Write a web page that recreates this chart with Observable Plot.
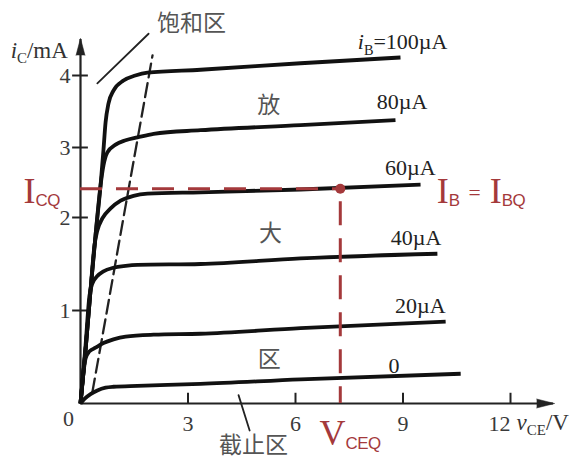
<!DOCTYPE html>
<html>
<head>
<meta charset="utf-8">
<script src="https://cdn.jsdelivr.net/npm/d3@7"></script>
<script src="https://cdn.jsdelivr.net/npm/@observablehq/plot@0.6"></script>
<style>
  html, body { margin: 0; padding: 0; background: #fff; }
</style>
</head>
<body>
<script>
// ---- data (v_CE in V, i_C in mA) ----
const ibValues = [100, 80, 60, 40, 20, 0];
const curveLabels = ["<i>i</i><sub>B</sub>=100µA", "80µA", "60µA", "40µA", "20µA", "0"];
const labelX = [10.24, 9.68, 9.91, 10.07, 10.19, 8.90];
const labelY = [4.46, 3.63, 2.71, 1.78, 1.05, 0.40];

const vce100 = [0, 0.14, 0.28, 0.42, 0.56, 0.64, 0.70, 0.78, 0.92, 1.20, 1.53, 1.87, 3.35, 6.14, 8.93];
const ic100  = [0, 0.57, 1.22, 1.81, 2.46, 2.96, 3.35, 3.61, 3.79, 3.93, 4.00, 4.04, 4.08, 4.17, 4.25];
const vce80 = [0, 0.14, 0.28, 0.42, 0.56, 0.64, 0.75, 0.98, 1.26, 1.59, 2.04, 3.35, 6.14, 8.79];
const ic80  = [0, 0.57, 1.22, 1.81, 2.46, 2.74, 2.93, 3.04, 3.10, 3.14, 3.19, 3.24, 3.31, 3.38];
const vce60 = [0, 0.14, 0.28, 0.39, 0.47, 0.61, 0.84, 1.12, 1.48, 1.87, 3.35, 6.14, 9.49];
const ic60  = [0, 0.57, 1.22, 1.70, 1.86, 1.99, 2.13, 2.24, 2.31, 2.34, 2.36, 2.40, 2.47];
const vce40 = [0, 0.14, 0.25, 0.33, 0.47, 0.64, 0.92, 1.26, 1.59, 3.35, 6.14, 9.96];
const ic40  = [0, 0.62, 1.16, 1.29, 1.37, 1.42, 1.46, 1.48, 1.49, 1.50, 1.56, 1.61];
const vce20 = [0, 0.06, 0.14, 0.25, 0.42, 0.64, 0.92, 1.26, 2.04, 3.35, 6.14, 10.19];
const ic20  = [0, 0.25, 0.48, 0.56, 0.60, 0.65, 0.69, 0.72, 0.74, 0.75, 0.81, 0.88];
const vce0 = [0, 0.11, 0.28, 0.47, 0.70, 0.92, 1.59, 3.35, 6.14, 10.61];
const ic0  = [0, 0.05, 0.10, 0.14, 0.17, 0.18, 0.19, 0.21, 0.26, 0.32];

// saturation boundary (dashed)
const satV = [0.33, 0.74, 1.20, 1.55, 1.91, 2.01];
const satI = [0.12, 1.00, 2.00, 3.00, 4.00, 4.28];

// Q point
const VCEQ = 7.25;
const ICQ = 2.41;

// ticks
const xTicks = [3, 6, 9, 12];
const yTicks = [1, 2, 3, 4];

// region labels
const regionText = ["放", "大", "区"];
const regionX = [5.25, 5.30, 5.27];
const regionY = [3.58, 1.83, 0.47];
const satLabel = {text: "饱和区", x: 3.10, y: 4.72, lx: [0.47, 1.90], ly: [3.89, 4.58]};
const cutLabel = {text: "截止区", x: 4.83, y: -0.45, lx: [4.41, 4.72], ly: [0.09, -0.29]};

// ---- build table ----
const series = [[vce100, ic100], [vce80, ic80], [vce60, ic60], [vce40, ic40], [vce20, ic20], [vce0, ic0]];
const rows = series.flatMap(([vs, is], k) => vs.map((v, j) => ({ib: ibValues[k], v, i: is[j]})));
const labels = curveLabels.map((t, k) => ({t, x: labelX[k], y: labelY[k]}));
const sat = satV.map((v, j) => ({v, i: satI[j]}));
const regions = regionText.map((t, k) => ({t, x: regionX[k], y: regionY[k]}));

const RED = "#a4393b";
const INK = "#111";
const AX = "#222";
const SERIF = "Liberation Serif, Times New Roman, serif";
const CJK = "Noto Sans CJK SC, sans-serif";

const chart = Plot.plot({
  width: 577,
  height: 459,
  margin: 0,
  style: {background: "white", overflow: "visible"},
  x: {domain: [0, 12], range: [80, 510], axis: null},
  y: {type: "linear", domain: [0, 1, 2, 3, 4], range: [403, 310, 217, 147, 75], axis: null},
  marks: [
    // axes
    Plot.ruleY([0], {x1: 0, x2: 13.2, stroke: AX, strokeWidth: 2.2}),
    Plot.ruleX([0], {y1: 0, y2: 4.5, stroke: AX, strokeWidth: 2.2}),
    Plot.vector([{x: 0, y: 4.28}], {x: "x", y: "y", length: 17, rotate: 0, anchor: "start", shape: "spike", r: 4.5, fill: AX, stroke: AX, strokeWidth: 0.5}),
    Plot.vector([{x: 12.73, y: 0}], {x: "x", y: "y", length: 18, rotate: 90, anchor: "start", shape: "spike", r: 4.5, fill: AX, stroke: AX, strokeWidth: 0.5}),
    Plot.ruleX(xTicks, {x: d => d, y1: 0, y2: 0.11, stroke: AX, strokeWidth: 2}),
    Plot.ruleY(yTicks, {y: d => d, x1: -0.22, x2: 0.22, stroke: AX, strokeWidth: 2}),
    // tick labels
    Plot.text(yTicks, {x: 0, y: d => d, text: d => String(d), dx: -10, textAnchor: "end", fontSize: 22, fontFamily: SERIF, fill: "#3a3a3a"}),
    Plot.text([0], {x: 0, y: 0, text: d => String(d), dx: -12, dy: 15, fontSize: 22, fontFamily: SERIF, fill: "#3a3a3a"}),
    Plot.text(xTicks.filter(d => d < 12), {x: d => d, y: 0, text: d => String(d), dy: 20, fontSize: 22, fontFamily: SERIF, fill: "#3a3a3a"}),
    Plot.text(xTicks.filter(d => d >= 12), {x: d => d, y: 0, text: d => String(d), dy: 20, textAnchor: "end", fontSize: 22, fontFamily: SERIF, fill: "#3a3a3a"}),
    // axis titles
    Plot.text(["<i>i</i><sub>C</sub>/mA"], {x: -1.95, y: 4.35, text: d => d, textAnchor: "start", fontSize: 23, fontFamily: SERIF, fill: "#333"}),
    Plot.text(["<i>v</i><sub>CE</sub>/V"], {x: 12.17, y: 0, text: d => d, dy: 19, textAnchor: "start", fontSize: 23, fontFamily: SERIF, fill: "#333"}),
    // saturation dashed boundary
    Plot.line(sat, {x: "v", y: "i", stroke: AX, strokeWidth: 2.3, strokeDasharray: "14,6"}),
    // characteristic curves
    Plot.line(rows, {x: "v", y: "i", z: "ib", stroke: INK, strokeWidth: 3.8, curve: "monotone-x", strokeLinecap: "butt", strokeLinejoin: "round"}),
    // curve labels
    Plot.text(labels, {x: "x", y: "y", text: "t", textAnchor: "end", fontSize: 22, fontFamily: SERIF, fill: "#222"}),
    // region labels
    Plot.text(regions, {x: "x", y: "y", text: "t", fontSize: 23, fontFamily: CJK, fill: "#555"}),
    Plot.text([satLabel], {x: "x", y: "y", text: "text", fontSize: 23, fontFamily: CJK, fill: "#555"}),
    Plot.text([cutLabel], {x: "x", y: "y", text: "text", fontSize: 23, fontFamily: CJK, fill: "#555"}),
    Plot.line(satLabel.lx.map((v, j) => ({v, i: satLabel.ly[j]})), {x: "v", y: "i", stroke: AX, strokeWidth: 1.8}),
    Plot.line(cutLabel.lx.map((v, j) => ({v, i: cutLabel.ly[j]})), {x: "v", y: "i", stroke: AX, strokeWidth: 1.8}),
    // Q point annotations
    Plot.ruleY([ICQ], {y: d => d, x1: 0, x2: VCEQ, stroke: RED, strokeWidth: 3, strokeDasharray: "22,14"}),
    Plot.ruleX([VCEQ], {x: d => d, y1: ICQ, y2: 0, stroke: RED, strokeWidth: 3, strokeDasharray: "24,13", strokeDashoffset: 24}),
    Plot.dot([{v: VCEQ, i: ICQ}], {x: "v", y: "i", r: 5, fill: RED, stroke: "none"}),
    Plot.text(["I<hs>CQ</hs>"], {x: -1.59, y: 2.21, text: d => d, textAnchor: "start", lineAnchor: "bottom", fontSize: 36, fontFamily: SERIF, fill: RED}),
    Plot.text(["I<hs>B</hs> <sm>=</sm> I<hs>BQ</hs>"], {x: 9.94, y: 2.21, text: d => d, textAnchor: "start", lineAnchor: "bottom", fontSize: 36, fontFamily: SERIF, fill: RED}),
    Plot.text(["V<hs>CEQ</hs>"], {x: 6.67, y: -0.45, text: d => d, textAnchor: "start", lineAnchor: "bottom", fontSize: 36, fontFamily: SERIF, fill: RED})
  ]
});

document.body.append(chart);

// turn simple markup (<i>, <sub>, <hs>, <sm>) into tspans
const NS = "http://www.w3.org/2000/svg";
d3.select(chart).selectAll("text").each(function () {
  const s = this.textContent;
  if (!s.includes("<")) return;
  const fs = parseFloat(getComputedStyle(this).fontSize) || 20;
  this.textContent = "";
  const re = /<(\w+)>(.*?)<\/\1>|([^<]+)/g;
  let m, shift = 0;
  while ((m = re.exec(s))) {
    const t = document.createElementNS(NS, "tspan");
    let target = 0;
    if (m[3] !== undefined) {
      t.textContent = m[3];
    } else {
      t.textContent = m[2];
      const tag = m[1];
      if (tag === "i") t.setAttribute("font-style", "italic");
      if (tag === "sub") { t.setAttribute("font-size", fs * 0.65); target = fs * 0.24; }
      if (tag === "hs") { t.setAttribute("font-size", fs * 0.47); t.setAttribute("font-family", "Liberation Sans, sans-serif"); t.setAttribute("letter-spacing", "-0.5"); target = fs * 0.1; }
      if (tag === "sm") { t.setAttribute("font-size", fs * 0.6); target = -fs * 0.08; }
    }
    if (target !== shift) { t.setAttribute("dy", target - shift); shift = target; }
    this.appendChild(t);
  }
});
</script>
</body>
</html>
